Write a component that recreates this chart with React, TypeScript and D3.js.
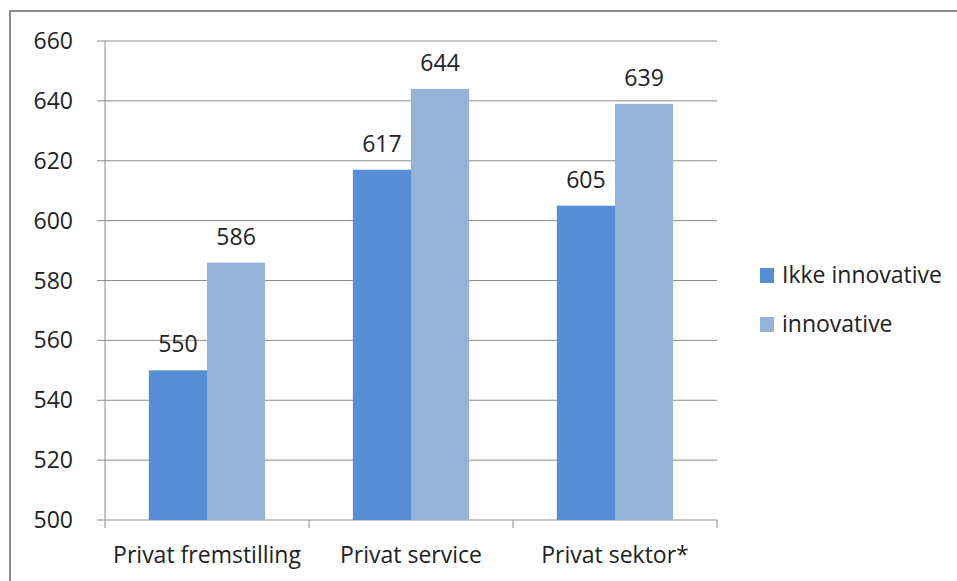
import React from "react";
import * as d3 from "d3";

const categories = ["Privat fremstilling", "Privat service", "Privat sektor*"];
const seriesNames = ["Ikke innovative", "innovative"];
const ikkeInnovative = [550, 617, 605];
const innovative = [586, 644, 639];
const yTicks = [500, 520, 540, 560, 580, 600, 620, 640, 660];
const colors = ["#558ED5", "#95B3D7"];

export default function App() {
  const W = 957, H = 581;
  const left = 105, right = 717, top = 41, bottom = 520;
  const font = "'Open Sans', sans-serif";
  const fs = 23;
  const y = d3.scaleLinear().domain([500, 660]).range([bottom, top]);
  const x = d3.scaleBand().domain(categories).range([left, right]).paddingInner(0.43).paddingOuter(0.215);
  const x1 = d3.scaleBand().domain(seriesNames).range([0, x.bandwidth()]);
  const series = [ikkeInnovative, innovative];
  const band = (right - left) / categories.length;
  return (
    <svg width={W} height={H} style={{ position: "absolute", left: 0, top: 0, background: "#fff" }}>
      <rect x={10} y={11} width={W + 20} height={H + 20} fill="#fff" stroke="#8c8c8c" strokeWidth={2} />
      {yTicks.map((t) => (
        <g key={t}>
          <line x1={97} x2={right} y1={y(t)} y2={y(t)} stroke="#8c8c8c" strokeWidth={1} />
          <text x={73} y={y(t) + 8} textAnchor="end" fontSize={fs} fontFamily={font} fill="#222">{t}</text>
        </g>
      ))}
      <line x1={left} x2={left} y1={top} y2={bottom} stroke="#8c8c8c" />
      {d3.range(categories.length + 1).map((i) => (
        <line key={i} x1={left + i * band} x2={left + i * band} y1={bottom} y2={bottom + 8} stroke="#8c8c8c" />
      ))}
      {categories.map((c, ci) => (
        <g key={c}>
          {series.map((s, si) => {
            const bx = (x(c) as number) + (x1(seriesNames[si]) as number);
            return (
              <g key={si}>
                <rect x={bx} y={y(s[ci])} width={x1.bandwidth()} height={bottom - y(s[ci])} fill={colors[si]} />
                <text x={bx + x1.bandwidth() / 2} y={y(s[ci]) - 18} textAnchor="middle" fontSize={fs} fontFamily={font} fill="#222">{s[ci]}</text>
              </g>
            );
          })}
          <text x={(x(c) as number) + x.bandwidth() / 2} y={563} textAnchor="middle" fontSize={fs} fontFamily={font} fill="#222">{c}</text>
        </g>
      ))}
      {seriesNames.map((n, i) => (
        <g key={n}>
          <rect x={760} y={268 + i * 49} width={14} height={15} fill={colors[i]} />
          <text x={782} y={283 + i * 49} fontSize={fs} fontFamily={font} fill="#222">{n}</text>
        </g>
      ))}
    </svg>
  );
}
